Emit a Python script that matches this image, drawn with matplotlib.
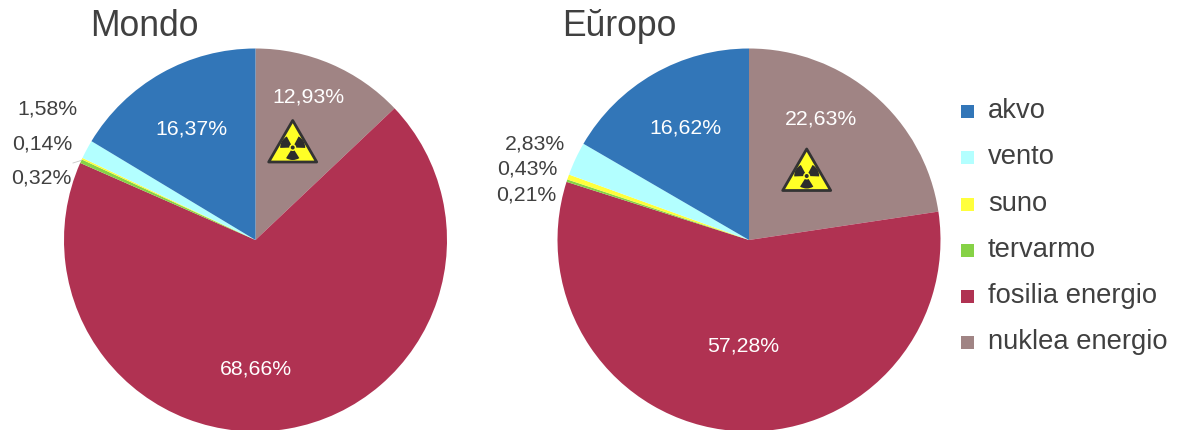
import matplotlib
matplotlib.use("Agg")
import matplotlib.pyplot as plt
from matplotlib.patches import Polygon, Wedge, Circle, Rectangle

plt.rcParams['font.family'] = ['Liberation Sans', 'DejaVu Sans']

W, H = 1181, 430

categories = ["nuklea energio", "fosilia energio", "tervarmo", "suno", "vento", "akvo"]
colors = ["#a08484", "#b03252", "#86d246", "#ffff3c", "#b3ffff", "#3276b8"]
mondo = [12.93, 68.66, 0.32, 0.14, 1.58, 16.37]
europo = [22.63, 57.28, 0.21, 0.43, 2.83, 16.62]
legend_order = ["akvo", "vento", "suno", "tervarmo", "fosilia energio", "nuklea energio"]
TXT = "#404040"


def fmt(v):
    return f"{v:.2f}%".replace(".", ",")


def draw_pie(ax, values, cx, cy, r):
    ax.pie(values, colors=colors, startangle=90, counterclock=False, center=(cx, H - cy),
           radius=r, frame=True, wedgeprops={"linewidth": 0})


def trefoil(ax, cx, cy):
    # cx, cy is the centre of the symbol, in image pixels
    y = H - cy
    ax.add_patch(Polygon([(cx, y + 27), (cx - 24, y - 14.5), (cx + 24, y - 14.5)], closed=True,
                         facecolor="#ffff26", edgecolor="#333333", linewidth=2.0, joinstyle="round"))
    for a in (30, 150, 270):
        ax.add_patch(Wedge((cx, y), 12.5, a - 32, a + 32, width=9, facecolor="#2d2d2d", linewidth=0))
    ax.add_patch(Circle((cx, y), 2.0, facecolor="#2d2d2d", linewidth=0))


fig = plt.figure(figsize=(W / 100, H / 100), dpi=100)
ax = fig.add_axes([0, 0, 1, 1])

draw_pie(ax, mondo, 255.5, 240, 191.5)
draw_pie(ax, europo, 749, 240, 191.5)
ax.set_xlim(0, W)
ax.set_ylim(0, H)
ax.axis("off")


def label(x, y, s, color=TXT, size=15.3, ha="center", va="center"):
    ax.text(x, H - y, s, color=color, fontsize=size, ha=ha, va=va)


label(90, 36, "Mondo", size=25.6, ha="left", va="baseline")
label(562, 36, "Eŭropo", size=25.6, ha="left", va="baseline")

label(191, 128.8, fmt(mondo[5]), "white")
label(308, 96.8, fmt(mondo[0]), "white")
label(256, 368.8, fmt(mondo[1]), "white")
label(47, 108.8, fmt(mondo[4]))
label(42, 143.8, fmt(mondo[3]))
label(41, 177.8, fmt(mondo[2]))

label(685, 127.8, fmt(europo[5]), "white")
label(821, 118.8, fmt(europo[0]), "white")
label(743, 345.8, fmt(europo[1]), "white")
label(535, 143.8, fmt(europo[4]))
label(527, 168.8, fmt(europo[3]))
label(526, 194.8, fmt(europo[2]))

trefoil(ax, 292.7, 147.5)
trefoil(ax, 806.7, 176)

# thin leader line of the small Mondo slice
ax.plot([73, 81], [H - 163, H - 160.5], color="#c8c8c8", linewidth=0.6)

legend_base = [117.7, 163.5, 210.7, 256.7, 303.3, 349.3]
for name, y in zip(legend_order, legend_base):
    c = colors[categories.index(name)]
    ax.add_patch(Rectangle((961, H - y), 13, 13, facecolor=c, edgecolor="none"))
    label(988, y, name, size=19.7, ha="left", va="baseline")

fig.savefig("out.png", dpi=100)
